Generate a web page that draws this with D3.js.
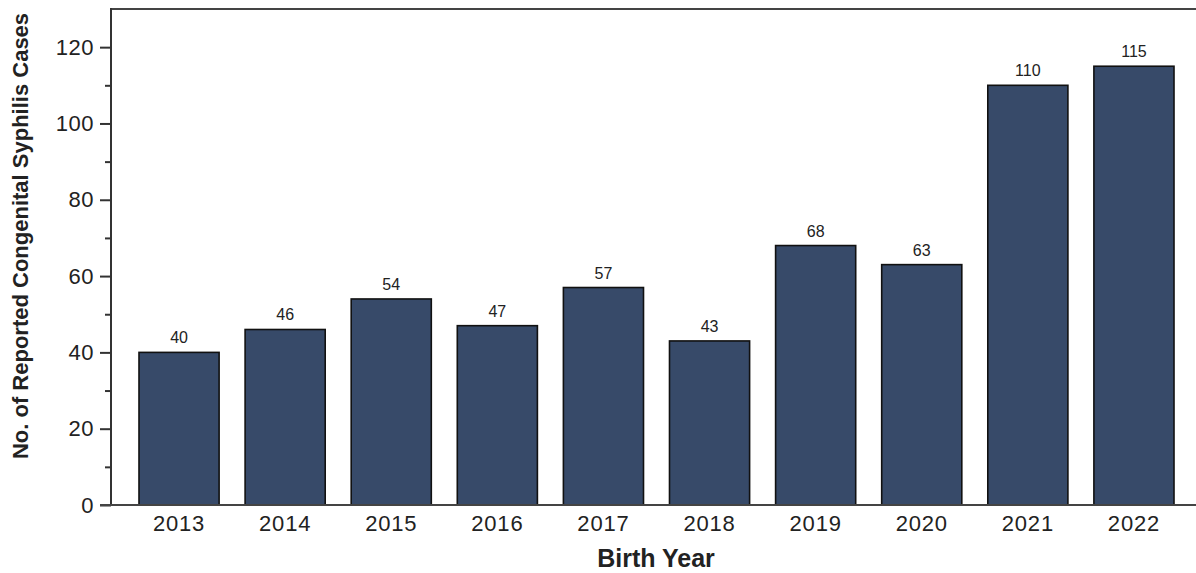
<!DOCTYPE html>
<html>
<head>
<meta charset="utf-8">
<script src="https://cdn.jsdelivr.net/npm/d3@7"></script>
<style>
  html, body { margin: 0; padding: 0; background: #fff; }
  svg { display: block; font-family: "Liberation Sans", Arial, sans-serif; }
</style>
</head>
<body>
<svg id="chart" width="1196" height="573"></svg>
<script>
const years = ["2013","2014","2015","2016","2017","2018","2019","2020","2021","2022"];
const cases = [40, 46, 54, 47, 57, 43, 68, 63, 110, 115];
const yTicks = [0, 20, 40, 60, 80, 100, 120];
const yMinorTicks = [10, 30, 50, 70, 90, 110];

(function () {
const svg = d3.select("#chart");
const W = 1196;
const mLeft = 111, mTop = 9, mBottom = 505;

const x = d3.scaleBand().domain(years).range([126, 1187]).paddingInner(0.245).paddingOuter(0.1225);
const y = d3.scaleLinear().domain([0, 130]).range([mBottom, mTop]);

// bars
svg.append("g").selectAll("rect").data(years).join("rect")
  .attr("x", (d) => x(d))
  .attr("width", x.bandwidth())
  .attr("y", (d, i) => y(cases[i]))
  .attr("height", (d, i) => y(0) - y(cases[i]))
  .attr("fill", "#374a69")
  .attr("stroke", "#111")
  .attr("stroke-width", 1.6);

// value labels
svg.append("g").selectAll("text").data(years).join("text")
  .attr("x", (d) => x(d) + x.bandwidth() / 2)
  .attr("y", (d, i) => y(cases[i]) - 9)
  .attr("text-anchor", "middle")
  .attr("font-size", 16)
  .attr("fill", "#222")
  .text((d, i) => cases[i]);

// y axis
const yAxis = d3.axisLeft(y).tickValues(yTicks).tickSize(11).tickPadding(6);
const gy = svg.append("g").attr("transform", `translate(${mLeft},0)`).call(yAxis);
gy.select(".domain").remove();
gy.selectAll(".tick line").attr("stroke", "#333").attr("stroke-width", 2);
gy.selectAll(".tick text").attr("font-size", 22).attr("fill", "#222")
  .attr("letter-spacing", 0.5)
  .attr("font-family", "Liberation Sans, Arial, sans-serif");
const yMinor = d3.axisLeft(y).tickValues(yMinorTicks).tickSize(6).tickFormat("");
const gym = svg.append("g").attr("transform", `translate(${mLeft},0)`).call(yMinor);
gym.select(".domain").remove();
gym.selectAll(".tick line").attr("stroke", "#333").attr("stroke-width", 2);

// x axis
const xAxis = d3.axisBottom(x).tickSize(0).tickPadding(10);
const gx = svg.append("g").attr("transform", `translate(0,${mBottom})`).call(xAxis);
gx.select(".domain").remove();
gx.selectAll(".tick text").attr("font-size", 22).attr("fill", "#222")
  .attr("letter-spacing", 0.8)
  .attr("font-family", "Liberation Sans, Arial, sans-serif");

// frame lines
svg.append("line").attr("x1", mLeft).attr("x2", W).attr("y1", mTop).attr("y2", mTop)
  .attr("stroke", "#444").attr("stroke-width", 2);
svg.append("line").attr("x1", mLeft).attr("x2", mLeft).attr("y1", mTop - 1).attr("y2", mBottom + 1)
  .attr("stroke", "#333").attr("stroke-width", 2);
svg.append("line").attr("x1", 100).attr("x2", W).attr("y1", mBottom).attr("y2", mBottom)
  .attr("stroke", "#444").attr("stroke-width", 2);

// axis titles
svg.append("text").attr("x", 656).attr("y", 567).attr("text-anchor", "middle")
  .attr("font-size", 25).attr("font-weight", "bold").attr("fill", "#222").text("Birth Year");
svg.append("text").attr("transform", "translate(28,236) rotate(-90)").attr("text-anchor", "middle")
  .attr("font-size", 22).attr("font-weight", "bold").attr("fill", "#222")
  .text("No. of Reported Congenital Syphilis Cases");
})();
</script>
</body>
</html>
